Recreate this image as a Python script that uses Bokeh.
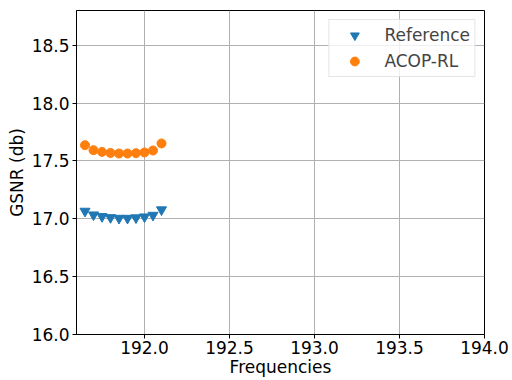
from bokeh.plotting import figure
from bokeh.models import FixedTicker, NumeralTickFormatter, Range1d, Legend, LegendItem
from bokeh.embed import file_html
from bokeh.resources import INLINE

# Channel frequencies (THz) and GSNR values (dB)
frequencies = [191.65, 191.70, 191.75, 191.80, 191.85, 191.90, 191.95, 192.00, 192.05, 192.10]
gsnr_reference = [17.066, 17.034, 17.020, 17.011, 17.005, 17.005, 17.009, 17.017, 17.031, 17.078]
gsnr_acop_rl = [17.636, 17.593, 17.578, 17.569, 17.564, 17.564, 17.567, 17.573, 17.590, 17.651]

x_ticks = [192.0, 192.5, 193.0, 193.5, 194.0]
y_ticks = [16.0, 16.5, 17.0, 17.5, 18.0, 18.5]

FONT = "DejaVu Sans"
FS = "17px"

p = figure(width=512, height=380, output_backend="svg", toolbar_location=None,
           x_range=Range1d(191.6, 194.0), y_range=Range1d(16.0, 18.8),
           min_border_left=76, min_border_right=28, min_border_top=10, min_border_bottom=46)

p.background_fill_color = "white"
p.border_fill_color = "white"
p.outline_line_color = "black"
p.outline_line_width = 1
p.outline_line_alpha = 1

r_ref = p.scatter(frequencies, gsnr_reference, marker="inverted_triangle", size=10,
                  fill_color="#1f77b4", line_color="#1f77b4")
r_rl = p.scatter(frequencies, gsnr_acop_rl, marker="circle", size=9,
                 fill_color="#ff7f0e", line_color="#ff7f0e")

for ax in (p.xaxis[0], p.yaxis[0]):
    ax.axis_line_color = "black"
    ax.major_tick_line_color = "black"
    ax.major_tick_out = 4
    ax.major_tick_in = 0
    ax.minor_tick_line_color = None
    ax.major_label_text_font = FONT
    ax.major_label_text_font_size = FS
    ax.major_label_text_color = "black"
    ax.axis_label_text_font = FONT
    ax.axis_label_text_font_size = FS
    ax.axis_label_text_font_style = "normal"
    ax.axis_label_text_color = "black"
    ax.formatter = NumeralTickFormatter(format="0.0")

p.xaxis[0].ticker = FixedTicker(ticks=x_ticks)
p.yaxis[0].ticker = FixedTicker(ticks=y_ticks)
p.xaxis[0].axis_label = "Frequencies"
p.yaxis[0].axis_label = "GSNR (db)"
p.xaxis[0].major_label_standoff = 2
p.yaxis[0].major_label_standoff = 3
p.xaxis[0].axis_label_standoff = 0
p.yaxis[0].axis_label_standoff = 2

p.xgrid.ticker = FixedTicker(ticks=x_ticks)
p.ygrid.ticker = FixedTicker(ticks=y_ticks)
for g in (p.xgrid[0], p.ygrid[0]):
    g.grid_line_color = "#b0b0b0"
    g.grid_line_width = 1

legend = Legend(items=[LegendItem(label="Reference", renderers=[r_ref]),
                       LegendItem(label="ACOP-RL", renderers=[r_rl])],
                location="top_right", margin=9, padding=4, spacing=4,
                label_text_font=FONT, label_text_font_size=FS,
                label_standoff=9, glyph_width=42, glyph_height=22, label_height=22,
                border_line_color="#cccccc", border_line_width=1,
                background_fill_color="white", background_fill_alpha=0.8)
p.add_layout(legend)

open("out.html", "w").write(file_html(p, INLINE))
